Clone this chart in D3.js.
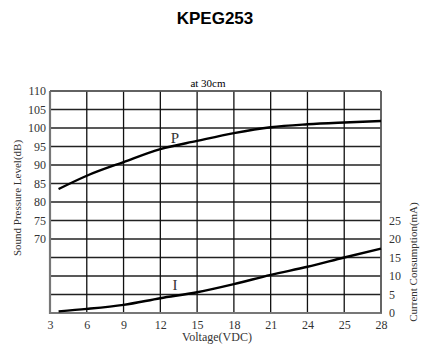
<!DOCTYPE html>
<html><head><meta charset="utf-8">
<script src="https://cdn.jsdelivr.net/npm/d3@7"></script>
<style>body{margin:0;background:#fff}svg{display:block}</style>
</head><body>
<svg id="c" width="425" height="345"></svg>
<script>
const xTickPos = [3, 6, 9, 12, 15, 18, 21, 24, 27, 30];
const xTickLabels = ["3","6","9","12","15","18","21","24","25","28"];
const leftTicks = [70, 75, 80, 85, 90, 95, 100, 105, 110];
const rightTicks = [0, 5, 10, 15, 20, 25];
const voltage = [3.7, 6, 9, 12, 15, 18, 21, 24, 27, 30];
const splP = [83.5, 87.1, 90.8, 94.3, 96.5, 98.6, 100.2, 101.0, 101.5, 101.9];
const currentI = [0.45, 1.1, 2.2, 4.0, 5.6, 7.8, 10.3, 12.5, 15.0, 17.4];

const svg = d3.select("#c");
const L = 50, R = 381, T = 91, B = 313;
const x = d3.scaleLinear().domain([3, 30]).range([L, R]);
const yL = d3.scaleLinear().domain([50, 110]).range([B, T]);
const yR = d3.scaleLinear().domain([0, 60]).range([B, T]);
const serif = "'Liberation Serif', 'DejaVu Serif', serif";

svg.append("text").attr("x", 215).attr("y", 24).attr("text-anchor", "middle")
  .attr("font-family", "'Liberation Sans', Arial, sans-serif").attr("font-weight", "bold")
  .attr("font-size", 17).text("KPEG253");
svg.append("text").attr("x", 208).attr("y", 87).attr("text-anchor", "middle")
  .attr("font-family", serif).attr("font-size", 11).text("at 30cm");

// grid
const g = svg.append("g");
g.selectAll("line.h").data(d3.range(50, 111, 5)).join("line")
  .attr("x1", L).attr("x2", R).attr("y1", d => yL(d)).attr("y2", d => yL(d))
  .attr("stroke", "#222").attr("stroke-width", 1.3);
g.selectAll("line.v").data(xTickPos).join("line")
  .attr("x1", d => x(d)).attr("x2", d => x(d)).attr("y1", T).attr("y2", B)
  .attr("stroke", "#111").attr("stroke-width", 1.3);
// frame
g.append("line").attr("x1", L).attr("x2", L).attr("y1", T).attr("y2", B + 1).attr("stroke", "#777").attr("stroke-width", 2.2);
g.append("line").attr("x1", L).attr("x2", R + 1).attr("y1", B).attr("y2", B).attr("stroke", "#777").attr("stroke-width", 2.2);
g.append("line").attr("x1", R).attr("x2", R).attr("y1", T).attr("y2", B).attr("stroke", "#666").attr("stroke-width", 1.6);
g.append("line").attr("x1", L).attr("x2", R).attr("y1", T).attr("y2", T).attr("stroke", "#666").attr("stroke-width", 1.6);

// axes
const axB = d3.axisBottom(x).tickValues(xTickPos).tickFormat((d, i) => xTickLabels[i]).tickSize(0).tickPadding(7);
const gb = svg.append("g").attr("transform", `translate(0,${B})`).call(axB);
const axL = d3.axisLeft(yL).tickValues(leftTicks).tickSize(0).tickPadding(4);
const gl = svg.append("g").attr("transform", `translate(${L},0)`).call(axL);
const axR = d3.axisRight(yR).tickValues(rightTicks).tickSize(0).tickPadding(8);
const gr = svg.append("g").attr("transform", `translate(${R},0)`).call(axR);
[gb, gl, gr].forEach(a => {
  a.select(".domain").remove();
  a.selectAll("text").attr("font-family", serif).attr("font-size", 12).attr("fill", "#333");
});

svg.append("text").attr("transform", "translate(21,198) rotate(-90)").attr("text-anchor", "middle")
  .attr("font-family", serif).attr("font-size", 11).attr("fill", "#333").text("Sound Pressure Level(dB)");
svg.append("text").attr("transform", "translate(417,262) rotate(-90)").attr("text-anchor", "middle")
  .attr("font-family", serif).attr("font-size", 11).attr("fill", "#333").text("Current Consumption(mA)");
svg.append("text").attr("x", 217).attr("y", 341).attr("text-anchor", "middle")
  .attr("font-family", serif).attr("font-size", 12).attr("fill", "#333").text("Voltage(VDC)");

// curves
const lineP = d3.line().x((d, i) => x(voltage[i])).y(d => yL(d)).curve(d3.curveMonotoneX);
const lineI = d3.line().x((d, i) => x(voltage[i])).y(d => yR(d)).curve(d3.curveMonotoneX);
svg.append("path").attr("d", lineP(splP)).attr("fill", "none").attr("stroke", "#000").attr("stroke-width", 2.4);
svg.append("path").attr("d", lineI(currentI)).attr("fill", "none").attr("stroke", "#000").attr("stroke-width", 2.4);

svg.append("text").attr("x", 175).attr("y", 143).attr("text-anchor", "middle")
  .attr("font-family", serif).attr("font-size", 15).attr("fill", "#333").text("P");
svg.append("text").attr("x", 175).attr("y", 290).attr("text-anchor", "middle")
  .attr("font-family", serif).attr("font-size", 15).attr("fill", "#333").text("I");
</script>
</body></html>
